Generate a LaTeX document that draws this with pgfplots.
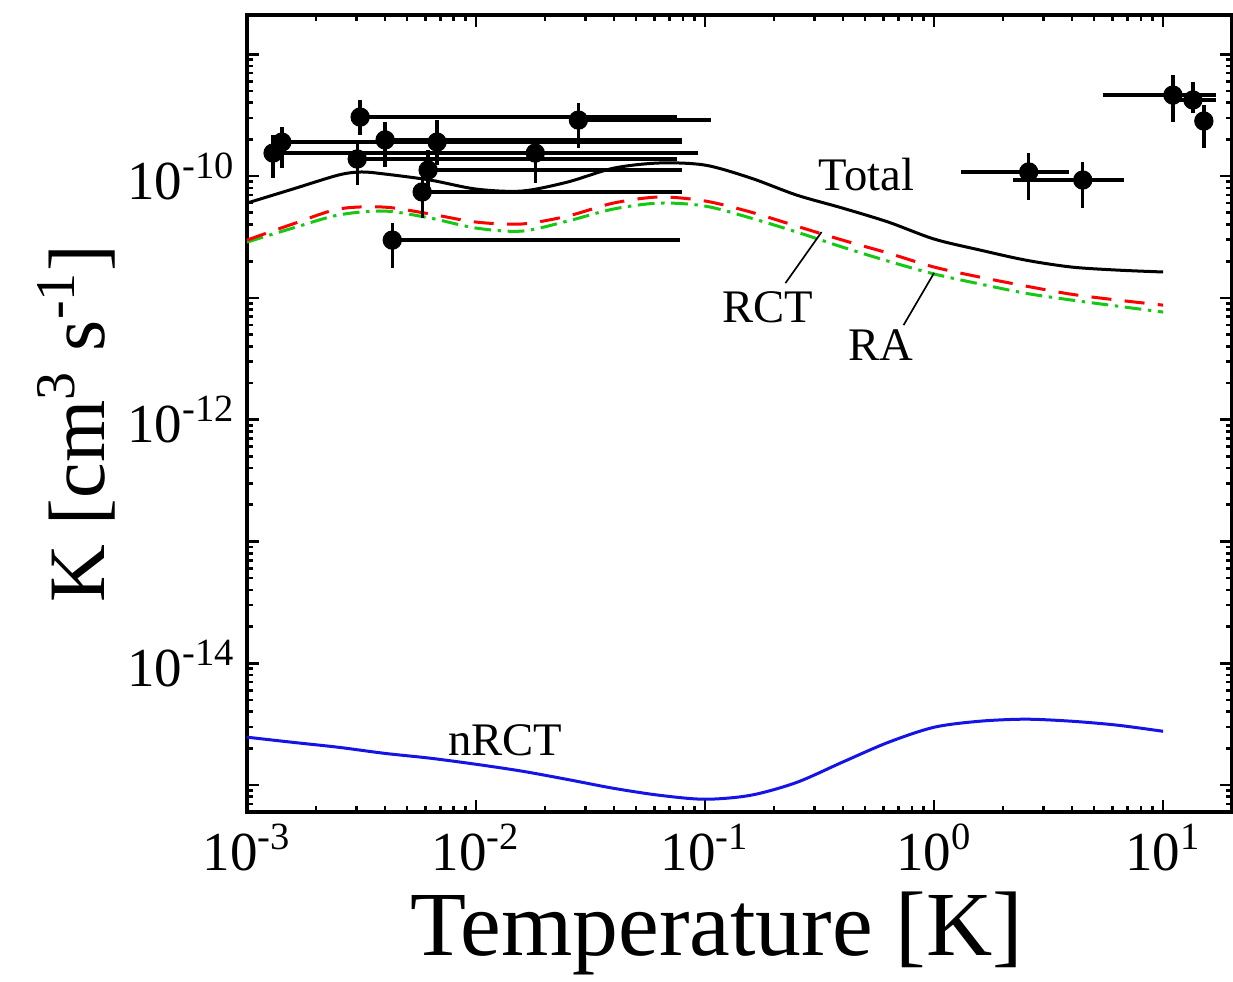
\documentclass[border=0pt]{standalone}
\usepackage{fontspec}
\setmainfont{Liberation Serif}
\usepackage{pgfplots}
\pgfplotsset{compat=1.18}
\definecolor{ragreen}{RGB}{20,200,20}
\definecolor{nblue}{RGB}{20,20,230}
\begin{document}
\begin{tikzpicture}
\begin{axis}[
    name=ax,
    scale only axis,
    width=295.5pt, height=239.1pt,
    xmode=log, ymode=log,
    xmin=1e-3, xmax=20,
    ymin=6e-16, ymax=2.1e-9,
    axis line style={line width=1pt},
    every tick/.style={black, line width=0.8pt},
    major tick length=3.5pt, minor tick length=1.8pt,
    tick label style={font=\fontsize{16.5}{18}\selectfont},
    xticklabel={\pgfmathparse{int(round(\tick/ln(10)))}10\textsuperscript{\pgfmathresult}},
    yticklabel={\pgfmathparse{int(round(\tick/ln(10)))}\let\myexp\pgfmathresult\ifodd\myexp\relax\else 10\textsuperscript{\myexp}\fi},
    xlabel={Temperature [K]},
    ylabel={K [cm\textsuperscript{3} s\textsuperscript{-1}]},
    xlabel style={font=\fontsize{27.5}{30}\selectfont, at={(axis description cs:0.477,-0.1794)}, anchor=base},
    ylabel style={font=\fontsize{24}{27}\selectfont, at={(axis description cs:-0.1442,0.487)}, anchor=base},
]
% RA
\addplot[ragreen, line width=0.9pt, smooth, dash pattern=on 5pt off 2pt on 1pt off 2pt] coordinates {
  (0.001,2.87e-11) (0.001585,3.74e-11) (0.002512,4.79e-11) (0.003981,5.16e-11)
  (0.00631,4.52e-11) (0.01,3.74e-11) (0.01585,3.53e-11) (0.02512,4.27e-11)
  (0.03981,5.36e-11) (0.0631,6.00e-11) (0.1,5.67e-11) (0.1585,4.52e-11)
  (0.2512,3.47e-11) (0.3981,2.61e-11) (0.631,2.00e-11) (1,1.57e-11)
  (1.585,1.30e-11) (2.512,1.09e-11) (3.981,9.59e-12) (6.31,8.55e-12) (10,7.64e-12)
};
% RCT
\addplot[red, line width=0.9pt, smooth, dash pattern=on 6pt off 4pt] coordinates {
  (0.001,2.98e-11) (0.001585,4.04e-11) (0.002512,5.36e-11) (0.003981,5.56e-11)
  (0.00631,4.88e-11) (0.01,4.19e-11) (0.01585,4.04e-11) (0.02512,4.69e-11)
  (0.03981,6.00e-11) (0.0631,6.73e-11) (0.1,6.24e-11) (0.1585,5.06e-11)
  (0.2512,3.88e-11) (0.3981,2.98e-11) (0.631,2.33e-11) (1,1.79e-11)
  (1.585,1.48e-11) (2.512,1.25e-11) (3.981,1.07e-11) (6.31,9.59e-12) (10,8.71e-12)
};
% Total
\addplot[black, line width=0.9pt, smooth] coordinates {
  (0.001,6.00e-11) (0.001585,7.82e-11) (0.002512,1.02e-10) (0.003162,1.08e-10)
  (0.003981,1.04e-10) (0.00631,9.27e-11) (0.01,7.82e-11) (0.01585,7.53e-11)
  (0.02512,8.93e-11) (0.03981,1.16e-10) (0.0631,1.28e-10) (0.1,1.23e-10)
  (0.1585,9.63e-11) (0.2512,6.98e-11) (0.3981,5.46e-11) (0.631,4.19e-11)
  (1,3.04e-11) (1.585,2.47e-11) (2.512,2.04e-11) (3.981,1.79e-11) (6.31,1.69e-11) (10,1.63e-11)
};
% nRCT
\addplot[nblue, line width=0.9pt, smooth] coordinates {
  (0.001,2.47e-15) (0.001585,2.24e-15) (0.002512,2.04e-15) (0.003981,1.82e-15)
  (0.00631,1.66e-15) (0.01,1.48e-15) (0.01585,1.30e-15) (0.02512,1.11e-15)
  (0.03981,9.40e-16) (0.0631,8.24e-16) (0.1,7.64e-16) (0.1585,8.24e-16)
  (0.2512,1.05e-15) (0.3981,1.54e-15) (0.631,2.24e-15) (1,2.98e-15)
  (1.585,3.34e-15) (2.512,3.47e-15) (3.981,3.34e-15) (6.31,3.10e-15) (10,2.76e-15)
};
% measurements
\addplot[black, only marks, mark=*, mark size=2.7pt,
  error bars/.cd, x dir=both, x explicit, y dir=both, y explicit,
  error mark=none, error bar style={line width=1pt, black}] coordinates {
  (1.30e-3,1.545e-10) += (0.0744,6.25e-11) -= (0,5.85e-11)
  (1.42e-3,1.90e-10)  += (0.0782,6.2e-11)  -= (0,7.4e-11)
  (3.12e-3,3.05e-10)  += (0.0726,1.16e-10) -= (0,8.8e-11)
  (3.03e-3,1.38e-10)  += (0.0727,5.2e-11)  -= (0,5.4e-11)
  (4.01e-3,1.98e-10)  += (0.0756,8.0e-11)  -= (0,7.9e-11)
  (6.76e-3,1.90e-10)  += (0.0728,9.8e-11)  -= (0,6.7e-11)
  (6.18e-3,1.12e-10)  += (0.0734,5.2e-11)  -= (0,3.5e-11)
  (5.82e-3,7.40e-11)  += (0.0738,2.8e-11)  -= (0,2.88e-11)
  (4.31e-3,2.98e-11)  += (0.0737,1.13e-11) -= (0,1.23e-11)
  (0.01815,1.545e-10) += (0.0746,4.35e-11) -= (0,6.68e-11)
  (0.0280,2.88e-10)   += (0.0777,1.10e-10) -= (0,1.18e-10)
  (2.59,1.08e-10)     += (1.28,4.65e-11)   -= (1.28,4.45e-11)
  (4.46,9.27e-11)     += (2.29,3.73e-11)   -= (2.25,3.81e-11)
  (11.04,4.62e-10)    += (5.96,2.14e-10)   -= (5.58,1.84e-10)
  (13.5,4.21e-10)     += (3.5,1.70e-10)    -= (2.7,9.2e-11)
  (15.07,2.83e-10)    += (0,1.0e-10)       -= (0,1.13e-10)
};
% labels
\node[font=\fontsize{14}{16}\selectfont] at (axis cs:0.507,1.02e-10) {Total};
\node[font=\fontsize{14}{16}\selectfont] at (axis cs:0.1875,8.4e-12) {RCT};
\node[font=\fontsize{14}{16}\selectfont] at (axis cs:0.585,4.09e-12) {RA};
\node[font=\fontsize{14}{16}\selectfont] at (axis cs:0.01343,2.33e-15) {nRCT};
\draw[black, line width=0.5pt] (axis cs:0.2244,1.32e-11) -- (axis cs:0.3228,3.47e-11);
\draw[black, line width=0.5pt] (axis cs:0.736,5.97e-12) -- (axis cs:1.0,1.6e-11);
\end{axis}
\pgfresetboundingbox
\path (ax.south west) ++(-74.1pt,-51pt) rectangle ++(369.9pt,294.6pt);
\end{tikzpicture}
\end{document}
